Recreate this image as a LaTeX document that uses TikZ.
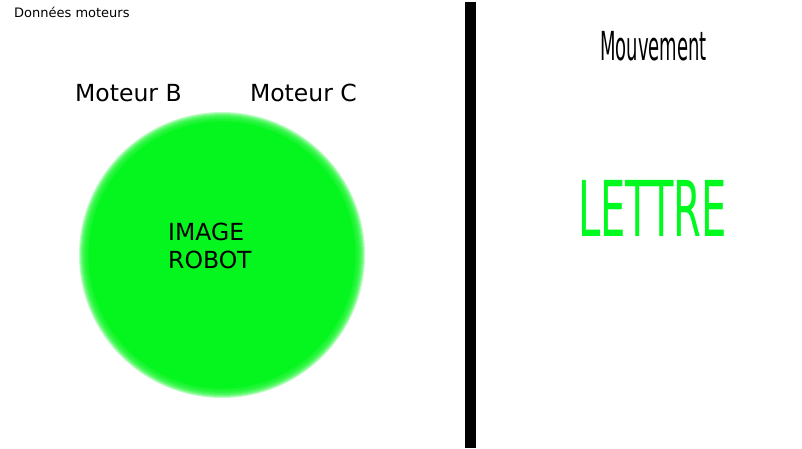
\documentclass[tikz,border=0pt]{standalone}
\usepackage{fontspec}
\setmainfont{DejaVu Sans}
\usepackage{tikz}
\usetikzlibrary{positioning}
\definecolor{robotgreen}{RGB}{5,245,30}
\definecolor{lettergreen}{RGB}{0,250,32}
\tikzstyle{small} = [inner sep=0pt, anchor=base west, font=\fontsize{13}{15}\selectfont]
\tikzstyle{motor} = [inner sep=0pt, anchor=base west, font=\fontsize{23.5}{28}\selectfont]
\tikzstyle{thin} = [inner sep=0pt, anchor=base]
\tikzstyle{bar} = [fill=black]

\begin{document}
\begin{tikzpicture}[x=1pt, y=1pt]
	\useasboundingbox (0,0) rectangle (802,448);
	%----------------------------------------------------%
	\node(data) [small] at (14,430) {Données moteurs};
	\node(motB) [motor] at (75,346) {Moteur B};
	\node(motC) [motor, right=68pt of motB.base east, anchor=base west] {Moteur C};
	\coordinate(robot) at (222,193);
	% soft edge of the robot disc
	\foreach \r in {143,142,...,134}
		\fill[robotgreen, opacity=0.25] (robot) circle (\r);
	\fill[robotgreen] (robot) circle (133.5);
	\node(robotlbl) [motor, align=left] at (168,180) {IMAGE\\ROBOT};
	%----------------------------------------------------%
	\fill[bar] (465,0) rectangle (476,446);
	%----------------------------------------------------%
	\node(mouv) [thin] at (653.5,387) {\fontsize{40}{40}\selectfont\scalebox{0.45}[1]{Mouvement}};
	\node(lettre) [thin, text=lettergreen] at (652.5,212) {\fontsize{77}{77}\selectfont\scalebox{0.52}[1]{LETTRE}};
\end{tikzpicture}
\end{document}
